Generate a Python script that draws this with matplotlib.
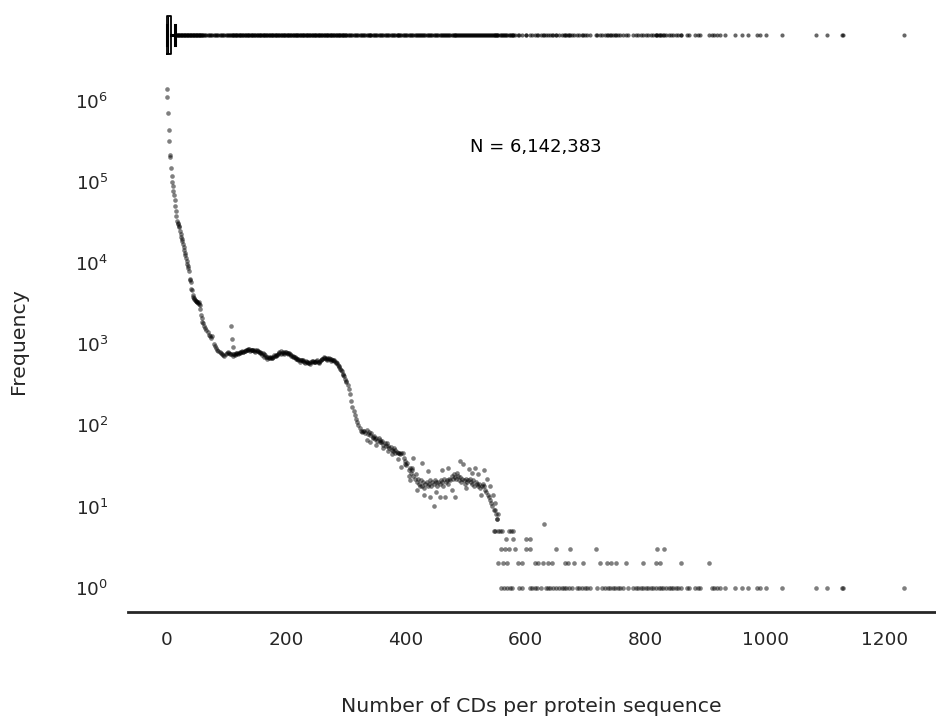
import matplotlib.pyplot as plt
import numpy as np

plt.rcParams['font.family'] = ['DejaVu Sans']
TEXT = '#262626'

# ---- data ----
# steep head, one value per CD count 0..60
cds_head = list(range(0, 61))
freq_head = [1400000, 1100000, 700000, 440000, 320000, 215000, 205000, 150000, 118000, 100000,
             88000, 78000, 70000, 60000, 51000, 44000, 38000, 33000, 31000, 30000,
             29000, 28000, 25000, 23000, 21000, 20000, 18500, 17000, 16000, 14500,
             13500, 12500, 11500, 10500, 9800, 9200, 8600, 8000, 6400, 6100,
             5900, 4800, 4600, 4000, 3800, 3700, 3600, 3500, 3400, 3450,
             3300, 3350, 3250, 3300, 3150, 3000, 2700, 2300, 2100, 1900,
             1800]

# shoulder 62..108 (every second count)
cds_shoulder = list(range(62, 109, 2))
freq_shoulder = [1700, 1600, 1500, 1400, 1300, 1250, 1200, 1250, 1000, 950,
                 900, 850, 820, 800, 780, 760, 740, 720, 760, 780,
                 800, 780, 760, 750]

# plateau 110..300
cds_plateau = list(range(110, 301, 2))
freq_plateau = [760, 750, 740, 760, 770, 790, 780, 800, 820, 810,
                830, 850, 840, 860, 870, 850, 860, 850, 830, 840,
                820, 830, 810, 800, 790, 770, 760, 730, 700, 690,
                680, 670, 690, 680, 700, 710, 720, 740, 750, 770,
                760, 780, 800, 790, 800, 790, 780, 770, 750, 740,
                720, 700, 690, 670, 660, 650, 640, 640, 630, 620,
                610, 620, 600, 590, 580, 600, 610, 620, 600, 610,
                620, 610, 600, 620, 640, 660, 680, 670, 660, 670,
                650, 660, 650, 640, 630, 620, 600, 580, 560, 530,
                500, 470, 430, 400, 370, 340]

# second pass over the plateau (every fourth odd count), the band is wavy
cds_plateau_odd = list(range(111, 300, 4))
freq_plateau_odd = [720, 780, 760, 810, 800, 830, 880, 820, 860, 800,
                    840, 780, 740, 700, 650, 690, 680, 740, 730, 800,
                    820, 760, 800, 760, 720, 700, 650, 640, 610, 640,
                    590, 600, 570, 620, 600, 640, 590, 650, 700, 640,
                    680, 620, 640, 590, 540, 480, 420, 350]

# tail 302..554
cds_tail = list(range(302, 555, 2))
freq_tail = [310, 280, 240, 200, 170, 150, 135, 120, 110, 100,
             92, 86, 82, 84, 86, 80, 88, 78, 82, 76,
             80, 72, 74, 68, 70, 64, 70, 66, 62, 64,
             58, 60, 56, 60, 55, 52, 54, 50, 48, 52,
             46, 47, 45, 46, 44, 46, 45, 40, 36, 32,
             34, 28, 30, 26, 28, 24, 22, 25, 20, 22,
             19, 21, 18, 20, 17, 19, 20, 18, 19, 21,
             18, 20, 19, 21, 20, 18, 20, 19, 21, 20,
             18, 22, 20, 21, 19, 22, 21, 24, 22, 25,
             23, 22, 24, 21, 23, 20, 22, 21, 19, 22,
             20, 21, 22, 20, 19, 21, 18, 20, 19, 18,
             19, 17, 18, 19, 18, 16, 15, 14, 13, 12,
             11, 10, 9, 9, 8, 7, 8]

# scattered extra points (spike near 108 and the noisy tail)
cds_extra = [108, 109, 110, 334, 339, 344, 350, 356, 362, 370, 376, 382, 387, 392, 398,
             404, 406, 410, 412, 418, 423, 426, 430, 436, 440, 446, 450, 456, 460, 465,
             470, 476, 481, 485, 490, 495, 500, 505, 510, 515, 520, 525, 530, 535, 540,
             545, 548, 551]
freq_extra = [1700, 1150, 930, 66, 63, 70, 58, 62, 52, 48, 44, 50, 38, 31, 33,
              24, 21, 30, 40, 16, 18, 34, 14, 27, 13, 10, 15, 13, 28, 13,
              30, 16, 13, 26, 36, 33, 17, 29, 26, 30, 25, 14, 28, 22, 18,
              14, 11, 7]

# rare counts: CD numbers seen 6, 5, 4, 3, 2 and 1 times
cds_f6 = [630]
cds_f5 = [546, 549, 554, 557, 560, 572, 575, 579]
cds_f4 = [567, 578, 600, 607]
cds_f3 = [559, 565, 572, 582, 601, 607, 651, 674, 718, 820, 831]
cds_f2 = [554, 562, 568, 587, 593, 615, 621, 629, 637, 643, 665, 671, 681, 696,
          724, 735, 743, 750, 767, 796, 818, 824, 859, 907]
cds_f1 = [559, 563, 568, 573, 577, 589, 593, 607, 611, 615, 619, 625, 633, 637,
          641, 646, 650, 655, 660, 664, 668, 672, 678, 685, 689, 694, 699, 703,
          707, 719, 728, 732, 737, 740, 745, 749, 754, 758, 763, 771, 779, 784,
          788, 792, 796, 801, 805, 809, 813, 817, 822, 826, 830, 834, 839, 842,
          846, 851, 855, 860, 869, 873, 883, 887, 891, 911, 915, 920, 924, 933,
          949, 962, 972, 986, 991, 1001, 1028, 1085, 1103, 1128, 1130, 1233]

# box summary of the raw distribution
box_q1, box_med, box_q3 = 0, 2, 7
box_whislo, box_whishi = 0, 14
n_total = '6,142,383'

# ---- assemble ----
cds_all = (cds_head + cds_shoulder + cds_plateau + cds_plateau_odd + cds_tail + cds_extra
           + cds_f6 + cds_f5 + cds_f4 + cds_f3 + cds_f2 + cds_f1)
freq_all = (freq_head + freq_shoulder + freq_plateau + freq_plateau_odd + freq_tail + freq_extra
            + [6] * len(cds_f6) + [5] * len(cds_f5) + [4] * len(cds_f4)
            + [3] * len(cds_f3) + [2] * len(cds_f2) + [1] * len(cds_f1))

fig = plt.figure(figsize=(9.37, 7.19), dpi=100)
W, H = 937, 719
ax = fig.add_axes([128 / W, 1 - 612 / H, (935 - 128) / W, (612 - 70) / H])
ax_box = fig.add_axes([128 / W, 1 - 59 / H, (935 - 128) / W, 48 / H], sharex=ax)

ax.scatter(cds_all, freq_all, s=11, color='black', alpha=0.5, linewidths=0, zorder=3)
ax.set_yscale('log')
ax.set_ylim(0.5, 10 ** 6.38)
ax.set_xlim(-65, 1284)
ax.set_xticks([0, 200, 400, 600, 800, 1000, 1200])
ax.set_yticks([10 ** k for k in range(7)])
ax.minorticks_off()
ax.tick_params(axis='both', length=0, pad=14, labelsize=13.3, colors=TEXT)

for side in ['top', 'right', 'left']:
    ax.spines[side].set_visible(False)
ax.spines['bottom'].set_color(TEXT)
ax.spines['bottom'].set_linewidth(2)

ax.set_xlabel('Number of CDs per protein sequence', fontsize=14.7, color=TEXT, labelpad=34)
ax.set_ylabel('Frequency', fontsize=14.7, color=TEXT, labelpad=34)

ax.text(617, 2.7e5, 'N = ' + n_total, ha='center', va='center', fontsize=13, color='black')

# marginal box plot
fliers = sorted(set(c for c in cds_all if c > box_whishi))
stats = [dict(med=box_med, q1=box_q1, q3=box_q3, whislo=box_whislo,
              whishi=box_whishi, fliers=fliers)]
box_lp = dict(color='black', linewidth=1.3)
wh_lp = dict(color='black', linewidth=2.2)
ax_box.bxp(stats, positions=[1], widths=0.8, orientation='horizontal',
           boxprops=box_lp, whiskerprops=wh_lp, capprops=wh_lp,
           medianprops=dict(color='black', linewidth=0.8),
           flierprops=dict(marker='o', markersize=3, markerfacecolor='black',
                           markeredgecolor='none', alpha=0.6))
ax_box.set_ylim(0.5, 1.5)
ax_box.axis('off')

fig.savefig('out.png', dpi=100, facecolor='white')
